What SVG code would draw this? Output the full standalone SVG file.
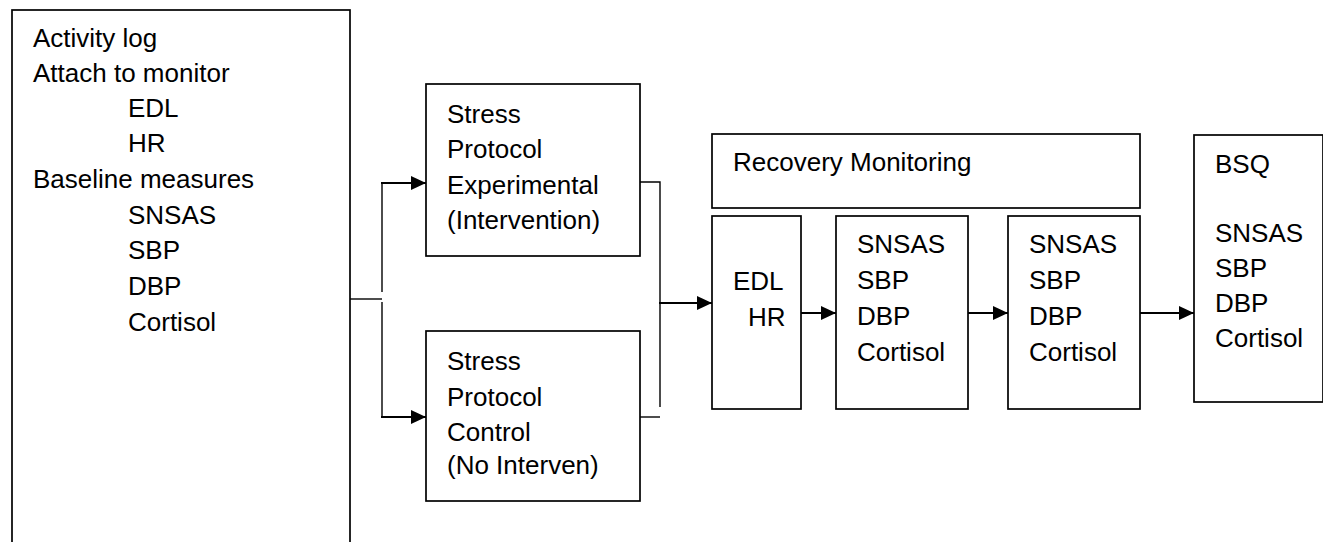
<svg xmlns="http://www.w3.org/2000/svg" width="1323" height="542" viewBox="0 0 1323 542">
<style>
  .box { fill: #fff; stroke: #000; stroke-width: 1.7; }
  .t { font-family: "Liberation Sans", Arial, sans-serif; font-size: 26px; fill: #000; }
  .line { fill: none; stroke: #000; stroke-width: 1.4; }
  .arr { fill: none; stroke: #000; stroke-width: 2; marker-end: url(#ah); }
</style>
<defs>
  <marker id="ah" viewBox="0 0 15 14" refX="15" refY="7" markerWidth="15" markerHeight="14" markerUnits="userSpaceOnUse" orient="auto">
    <path d="M0,0 L15,7 L0,14 Z" fill="#000"/>
  </marker>
</defs>
<rect width="1323" height="542" fill="#fff"/>

<g id="connectors">
  <path class="line" d="M350,299 H382"/>
  <path class="line" d="M382,292 V183"/>
  <path class="line" d="M382,302 V417"/>
  <path class="arr" d="M381,183 H426"/>
  <path class="arr" d="M381,417 H426"/>
  <path class="line" d="M640,182 H660 V407"/>
  <path class="line" d="M640,417 H660"/>
  <path class="arr" d="M659,303 H712"/>
  <path class="arr" d="M801,313 H836"/>
  <path class="arr" d="M968,313 H1008"/>
  <path class="arr" d="M1140,313 H1194"/>
</g>

<g id="baseline-box">
  <rect class="box" x="12" y="10" width="338" height="560"/>
  <text class="t" x="33" y="47">Activity log</text>
  <text class="t" x="33" y="82">Attach to monitor</text>
  <text class="t" x="128" y="117">EDL</text>
  <text class="t" x="128" y="152">HR</text>
  <text class="t" x="33" y="188">Baseline measures</text>
  <text class="t" x="128" y="224">SNSAS</text>
  <text class="t" x="128" y="259">SBP</text>
  <text class="t" x="128" y="295">DBP</text>
  <text class="t" x="128" y="331">Cortisol</text>
</g>

<g id="stress-experimental">
  <rect class="box" x="426" y="84" width="214" height="172"/>
  <text class="t" x="447" y="123">Stress</text>
  <text class="t" x="447" y="158">Protocol</text>
  <text class="t" x="447" y="194">Experimental</text>
  <text class="t" x="447" y="229">(Intervention)</text>
</g>

<g id="stress-control">
  <rect class="box" x="426" y="331" width="214" height="170"/>
  <text class="t" x="447" y="370">Stress</text>
  <text class="t" x="447" y="406">Protocol</text>
  <text class="t" x="447" y="441">Control</text>
  <text class="t" x="447" y="474">(No Interven)</text>
</g>

<g id="recovery-monitoring">
  <rect class="box" x="712" y="134" width="428" height="74"/>
  <text class="t" x="733" y="171">Recovery Monitoring</text>
</g>

<g id="recovery-edl-hr">
  <rect class="box" x="712" y="216" width="89" height="193"/>
  <text class="t" x="733" y="290">EDL</text>
  <text class="t" x="748" y="326">HR</text>
</g>

<g id="recovery-measures-1">
  <rect class="box" x="836" y="216" width="132" height="193"/>
  <text class="t" x="857" y="253">SNSAS</text>
  <text class="t" x="857" y="289">SBP</text>
  <text class="t" x="857" y="325">DBP</text>
  <text class="t" x="857" y="361">Cortisol</text>
</g>

<g id="recovery-measures-2">
  <rect class="box" x="1008" y="216" width="132" height="193"/>
  <text class="t" x="1029" y="253">SNSAS</text>
  <text class="t" x="1029" y="289">SBP</text>
  <text class="t" x="1029" y="325">DBP</text>
  <text class="t" x="1029" y="361">Cortisol</text>
</g>

<g id="bsq">
  <rect class="box" x="1194" y="135" width="129" height="267"/>
  <text class="t" x="1215" y="173">BSQ</text>
  <text class="t" x="1215" y="242">SNSAS</text>
  <text class="t" x="1215" y="277">SBP</text>
  <text class="t" x="1215" y="312">DBP</text>
  <text class="t" x="1215" y="347">Cortisol</text>
</g>
</svg>
